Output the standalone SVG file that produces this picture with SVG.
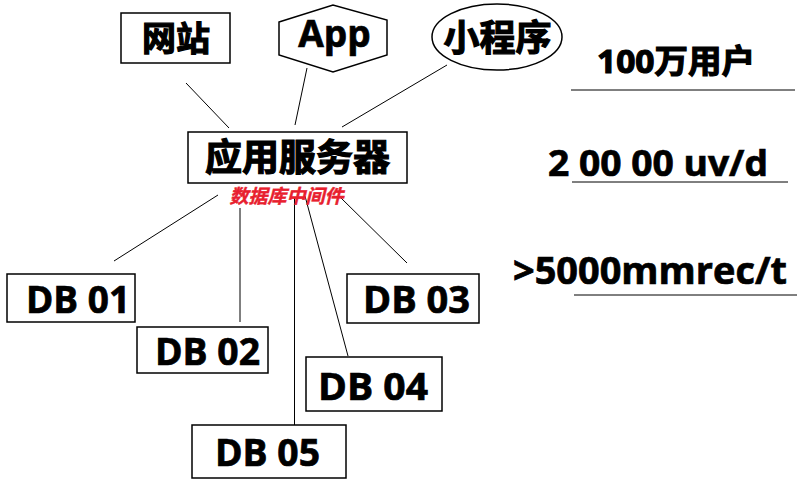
<svg xmlns="http://www.w3.org/2000/svg" width="804" height="482" viewBox="0 0 804 482">
<style>
.box{fill:#fff;stroke:#000;stroke-width:1.5}
.t{font-family:"Open Sans","Noto Sans CJK SC",sans-serif;font-weight:bold;fill:#000;stroke:#000;stroke-width:0.7;text-anchor:middle}
.cjk{stroke-width:1.2}
.c{stroke:#000;stroke-width:1;fill:none}
.red{font-family:"Noto Sans CJK SC",sans-serif;font-weight:bold;font-style:italic;fill:#e8202e;stroke:#e8202e;stroke-width:0.4;text-anchor:middle;font-size:19px}
</style>
<rect width="804" height="482" fill="#fff"/>
<g id="connectors">
<line class="c" x1="186" y1="83" x2="229" y2="128"/>
<line class="c" x1="307" y1="68" x2="295" y2="125"/>
<line class="c" x1="447" y1="65" x2="342" y2="127"/>
<line class="c" x1="218" y1="195" x2="114" y2="261"/>
<line class="c" x1="240" y1="208" x2="240" y2="322" stroke-width="1.3"/>
<line class="c" x1="294.5" y1="197" x2="294.5" y2="425"/>
<line class="c" x1="294.5" y1="197" x2="294.5" y2="227" stroke-width="2.5"/>
<line class="c" x1="305" y1="196" x2="348" y2="356"/>
<line class="c" x1="340" y1="197" x2="407" y2="263"/>
<line class="c" x1="571" y1="90" x2="795" y2="90"/>
<line class="c" x1="572" y1="182" x2="788" y2="182"/>
<line class="c" x1="574" y1="295" x2="797" y2="295"/>
</g>
<g id="wangzhan">
<rect class="box" x="121" y="13" width="109" height="50"/>
<text class="t cjk" x="176" y="51" font-size="34">网站</text>
</g>
<g id="app">
<polygon class="box" points="279,22 333,5 387,20 387,55 333,72 279,55"/>
<text class="t" x="334.5" y="47" font-size="37">App</text>
</g>
<g id="miniprogram">
<ellipse class="box" cx="497" cy="37" rx="65" ry="33" stroke-width="1"/>
<text class="t cjk" x="497.5" y="51" font-size="36">小程序</text>
</g>
<g id="appserver">
<rect class="box" x="188" y="132" width="219" height="51"/>
<text class="t cjk" x="297.5" y="171" font-size="37">应用服务器</text>
</g>
<g id="middleware">
<text class="red" x="286.5" y="203">数据库中间件</text>
</g>
<g id="db01">
<rect class="box" x="7" y="274" width="128" height="48"/>
<text class="t" x="78" y="313" font-size="37" textLength="104" lengthAdjust="spacingAndGlyphs">DB 01</text>
</g>
<g id="db02">
<rect class="box" x="137" y="327" width="131" height="46"/>
<text class="t" x="207.5" y="365" font-size="37" textLength="105" lengthAdjust="spacingAndGlyphs">DB 02</text>
</g>
<g id="db03">
<rect class="box" x="347" y="274" width="132" height="49"/>
<text class="t" x="416.5" y="313" font-size="37" textLength="107" lengthAdjust="spacingAndGlyphs">DB 03</text>
</g>
<g id="db04">
<rect class="box" x="306" y="357" width="136" height="54"/>
<text class="t" x="373" y="400" font-size="37" textLength="110" lengthAdjust="spacingAndGlyphs">DB 04</text>
</g>
<g id="db05">
<rect class="box" x="192" y="425" width="154" height="53"/>
<text class="t" x="267.5" y="466" font-size="37" textLength="105" lengthAdjust="spacingAndGlyphs">DB 05</text>
</g>
<g id="stats">
<text class="t cjk" x="676" y="73" font-size="33" textLength="158" lengthAdjust="spacingAndGlyphs">100万用户</text>
<text class="t" x="658" y="176" font-size="36" textLength="220" lengthAdjust="spacingAndGlyphs">2 00 00 uv/d</text>
<text class="t" x="650" y="284" font-size="37" textLength="274" lengthAdjust="spacingAndGlyphs">&gt;5000mmrec/t</text>
</g>
</svg>
